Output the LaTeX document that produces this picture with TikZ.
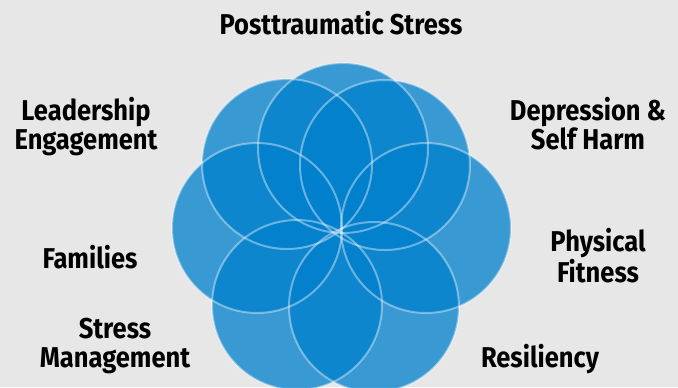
\documentclass[tikz,border=0pt]{standalone}
\usepackage{fontspec}
\newfontfamily\lblfont{Fira Sans}[FakeStretch=0.89]
\usepackage{xcolor}
\definecolor{bggray}{RGB}{231,231,231}
\definecolor{petalblue}{RGB}{0,128,205}

\begin{document}
\begin{tikzpicture}[x=0.75pt,y=0.75pt,yscale=-1,xscale=1,
  petal/.style={fill=petalblue,fill opacity=0.75},
  rim/.style={draw=white,draw opacity=0.4,line width=1.5},
  lbl/.style={font=\lblfont\bfseries\fontsize{21.5}{21.3}\selectfont,align=center,inner sep=0.75pt,anchor=base}]
\useasboundingbox (0,0) rectangle (678,387);
\clip (0,0) rectangle (678,387);
\fill [bggray] (0,0) rectangle (678,387);

%Shape: Circles
\foreach \cx/\cy in {343/148,385/165,426/228,374/307,297/305,257/228,287/164}
  \fill [petal] (\cx,\cy) circle (85);
\foreach \cx/\cy in {343/148,385/165,426/228,374/307,297/305,257/228,287/164}
  \draw [rim] (\cx,\cy) circle (85);

% Text Node
\node [lbl] (post) at (341,34) {Posttraumatic Stress};
% Text Node
\node [lbl] (depr) at (588,149) {Depression \&\\Self Harm};
% Text Node
\node [lbl] (phys) at (598,282) {Physical\\Fitness};
% Text Node
\node [lbl] (resil) at (540,367) {Resiliency};
% Text Node
\node [lbl] (stress) at (115,367) {Stress\\Management};
% Text Node
\node [lbl] (fam) at (90,268) {Families};
% Text Node
\node [lbl] (lead) at (86,149) {Leadership\\Engagement};

\end{tikzpicture}
\end{document}
